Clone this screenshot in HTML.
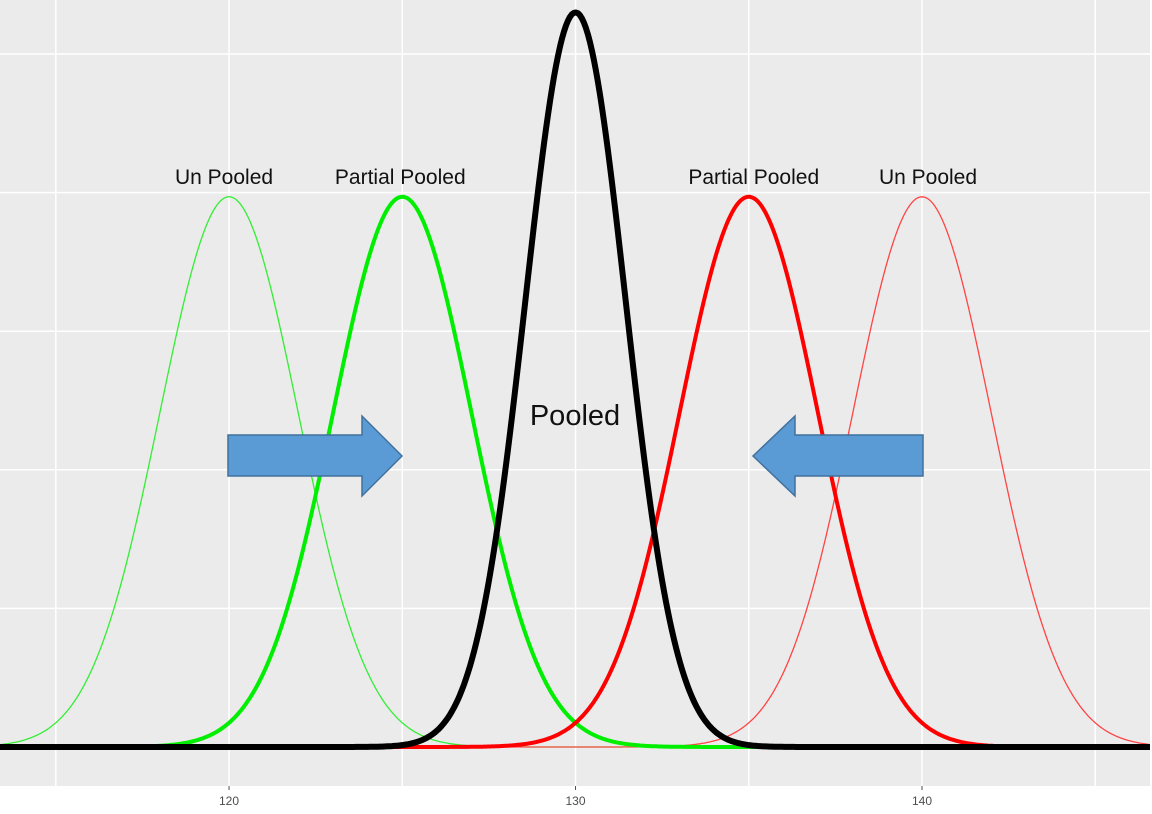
<!DOCTYPE html>
<html><head><meta charset="utf-8"><style>
html,body{margin:0;padding:0;background:#fff;}
svg{display:block;font-family:"Liberation Sans",sans-serif;}
</style></head><body>
<svg id="chart" width="1152" height="814" viewBox="0 0 1152 814"></svg>
<script>
const tickValues=[120,130,140];
const tickLabels=["120","130","140"];
const minorTicks=[115,125,135,145];
const yGrid=[0,1,2,3,4,5];
const seriesNames=["unpooled-left","unpooled-right","partial-left","partial-right","pooled"];
const means=[120,140,125,135,130];
const sds=[2,2,2,2,1.45];
const peaks=[3.97,3.97,3.97,3.97,5.3];
const colors=["#33ee33","#ff4444","#00ee00","#ff0000","#000000"];
const widths=[1.3,1.3,4,4,6];
const labels=[{t:"Un Pooled",x:120,y:4.2,dx:-5},{t:"Partial Pooled",x:125,y:4.2,dx:-2},{t:"Partial Pooled",x:135,y:4.2,dx:5},{t:"Un Pooled",x:140,y:4.2,dx:6}];

const NS="http://www.w3.org/2000/svg";
const svg=document.getElementById('chart');
const L=0,R=1150,T=0,B=786;
const x0=113.39,x1=146.58;
const X=v=>L+(v-x0)/(x1-x0)*(R-L);
const Y=v=>747-v*138.6;
function mk(tag,attrs,parent){const e=document.createElementNS(NS,tag);for(const k in attrs)e.setAttribute(k,attrs[k]);(parent||svg).appendChild(e);return e;}
const panel=mk('rect',{x:L,y:T,width:R-L,height:B-T,fill:'#EBEBEB'});


yGrid.forEach(v=>{const g=mk('line',{x1:L,x2:R,y1:Y(v),y2:Y(v),stroke:'#fff','stroke-width':1.5});

});
minorTicks.concat(tickValues).forEach(v=>{const g=mk('line',{x1:X(v),x2:X(v),y1:T,y2:B,stroke:'#fff','stroke-width':1.5});

});
tickValues.forEach((v,i)=>{
const t=mk('line',{x1:X(v),x2:X(v),y1:B,y2:B+4,stroke:'#4d4d4d','stroke-width':1});


const tx=mk('text',{x:X(v),y:B+19,'text-anchor':'middle','font-size':12,fill:'#4d4d4d'});
tx.textContent=tickLabels[i];


});
seriesNames.forEach((n,i)=>{
let d='';for(let px=L;px<=R;px+=2){const v=x0+(px-L)/(R-L)*(x1-x0);const y=peaks[i]*Math.exp(-0.5*((v-means[i])/sds[i])**2);d+=(px===L?'M':'L')+px+','+Y(y).toFixed(1);}
const p=mk('path',{d:d,fill:'none',stroke:colors[i],'stroke-width':widths[i],'stroke-linejoin':'round'});


});
labels.forEach(l=>{const t=mk('text',{x:X(l.x)+l.dx,y:Y(l.y)+19,'text-anchor':'middle','font-size':21,fill:'#111'});t.textContent=l.t;

});
const pl=mk('text',{x:575,y:425,'text-anchor':'middle','font-size':29,fill:'#111'});pl.textContent='Pooled';


const a1=mk('polygon',{points:'228,435 362,435 362,416 402,456 362,496 362,476 228,476',fill:'#5B9BD5',stroke:'#41719C','stroke-width':1.5});


const a2=mk('polygon',{points:'923,435 795,435 795,416 753,456 795,496 795,476 923,476',fill:'#5B9BD5',stroke:'#41719C','stroke-width':1.5});


</script>
</body></html>
